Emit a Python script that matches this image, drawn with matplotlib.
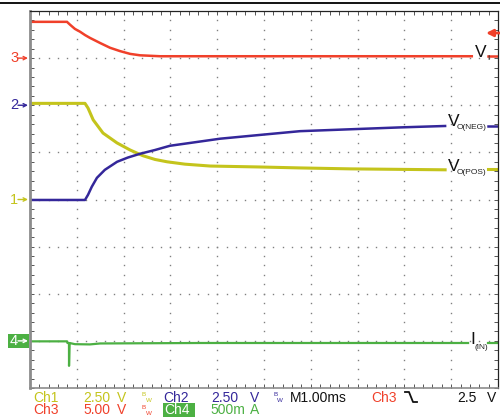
import matplotlib
matplotlib.use("Agg")
import matplotlib.pyplot as plt
import numpy as np
from matplotlib.lines import Line2D
from matplotlib.patches import Rectangle

plt.rcParams["font.family"] = ["Liberation Sans", "DejaVu Sans"]

W, H = 500, 417

# time axis in divisions (1 div = 1.00 ms), traces in screen divisions
ch3_t = [0.0, 0.79, 0.855, 0.96, 1.07, 1.175, 1.28, 1.50, 1.71, 1.92, 2.14, 2.35, 2.78, 3.63, 5.77, 8.33, 9.44]
ch3_v = [7.77, 7.77, 7.71, 7.62, 7.56, 7.49, 7.43, 7.32, 7.22, 7.15, 7.09, 7.06, 7.04, 7.04, 7.04, 7.04, 7.04]
ch3_tail_t = [9.79, 10.0]
ch3_tail_v = [7.04, 7.04]

ch1_t = [0.0, 1.175, 1.24, 1.35, 1.56, 1.86, 2.14, 2.41, 2.67, 2.93, 3.31, 3.85, 4.91, 5.77, 6.84, 8.87]
ch1_v = [6.04, 6.04, 5.94, 5.69, 5.41, 5.20, 5.05, 4.93, 4.85, 4.80, 4.75, 4.71, 4.69, 4.67, 4.65, 4.63]
ch1_tail_t = [9.79, 10.0]
ch1_tail_v = [4.64, 4.64]

ch2_t = [0.0, 1.175, 1.24, 1.32, 1.43, 1.60, 1.86, 2.09, 2.35, 2.67, 2.99, 3.42, 4.06, 4.91, 5.77, 6.84, 7.91, 8.87]
ch2_v = [3.99, 3.99, 4.10, 4.27, 4.46, 4.63, 4.80, 4.89, 4.97, 5.05, 5.14, 5.20, 5.29, 5.37, 5.45, 5.49, 5.53, 5.56]
ch2_tail_t = [9.79, 10.0]
ch2_tail_v = [5.57, 5.57]

ch4_t = [0.0, 0.79, 0.80, 0.833, 0.834, 0.845, 0.96, 1.28, 1.50, 3.63, 9.36]
ch4_v = [0.99, 0.99, 0.955, 0.955, 0.47, 0.955, 0.93, 0.925, 0.945, 0.955, 0.955]
ch4_tail_t = [9.79, 10.0]
ch4_tail_v = [0.955, 0.955]

# channel ground markers (div) and labels
marker_levels = [7, 6, 4, 1]
marker_names = ["3", "2", "1", "4"]

RED = "#f0402a"
YEL = "#c4c41c"
BLU = "#34279a"
GRN = "#4cb043"

fig = plt.figure(figsize=(W / 100, H / 100), dpi=100)
ax = fig.add_axes([30 / W, (H - 388) / H, 468 / W, 377 / H])
ax.set_xlim(0, 10)
ax.set_ylim(0, 8)

# graticule: dotted lines with a dot every minor division
minor_x = np.arange(0, 10.001, 0.2)
minor_y = np.arange(0, 8.001, 0.2)
for gx in range(1, 10):
    ax.plot(np.full_like(minor_y, gx), minor_y, ls="", marker="s", ms=1.0, color="#808080", mew=0)
for gy in range(1, 8):
    ax.plot(minor_x, np.full_like(minor_x, gy), ls="", marker="s", ms=1.0, color="#808080", mew=0)

ax.set_xticks(np.arange(0, 10.001, 1))
ax.set_xticks(minor_x, minor=True)
ax.set_yticks(np.arange(0, 8.001, 1))
ax.set_yticks(minor_y, minor=True)
ax.tick_params(which="both", direction="in", length=3, width=0.7, color="#555555",
               top=True, right=True, labelbottom=False, labelleft=False)
for side in ["top", "right"]:
    ax.spines[side].set_color("#222222")
    ax.spines[side].set_linewidth(0.9)
ax.spines["left"].set_color("#8c8c8c")
ax.spines["left"].set_linewidth(2.0)
ax.spines["bottom"].set_color("#8c8c8c")
ax.spines["bottom"].set_linewidth(1.2)

# traces
lw = 1.8
ax.plot(ch3_t, ch3_v, color=RED, lw=lw, solid_joinstyle="miter")
ax.plot(ch3_tail_t, ch3_tail_v, color=RED, lw=lw)
ax.plot(ch1_t, ch1_v, color=YEL, lw=lw + 0.4)
ax.plot(ch1_tail_t, ch1_tail_v, color=YEL, lw=lw + 0.4)
ax.plot(ch2_t, ch2_v, color=BLU, lw=lw)
ax.plot(ch2_tail_t, ch2_tail_v, color=BLU, lw=lw)
ax.plot(ch4_t, ch4_v, color=GRN, lw=lw - 0.2)
ax.plot(ch4_tail_t, ch4_tail_v, color=GRN, lw=lw - 0.2)


# trace labels
def trace_label(x, y, main, sub, sx, sy):
    ax.text(x, y, main, fontsize=12.5, va="center", ha="left", color="#111111")
    ax.text(sx, sy, sub, fontsize=6, va="center", ha="left", color="#222222")


trace_label(9.51, 7.11, "V", "I", 9.76, 7.0)
trace_label(8.93, 5.65, "V", "O(NEG)", 9.12, 5.52)
trace_label(8.93, 4.69, "V", "O(POS)", 9.12, 4.57)
trace_label(9.40, 1.02, "I", "(IN)", 9.49, 0.87)


def px(x, y):
    return x / W, 1 - y / H


# top black rule
fig.add_artist(Line2D([0, 1], [1 - 2.5 / H] * 2, color="black", lw=1.3))

# channel markers on the left edge
marker_colors = [RED, BLU, YEL, GRN]
for lvl, name, col in zip(marker_levels, marker_names, marker_colors):
    ypix = 388 - lvl * 377 / 8
    if name == "4":
        fig.add_artist(Rectangle(px(8, ypix + 7), 21 / W, 14 / H, transform=fig.transFigure,
                                 color=col, lw=0, zorder=-1))
        tc = "white"
    else:
        tc = col
    fig.text(*px(10, ypix), name, fontsize=10.5, color=tc, ha="left", va="center")
    ax.annotate("", xy=(28, H - ypix), xycoords="figure pixels",
                xytext=(18, H - ypix), textcoords="figure pixels",
                arrowprops=dict(arrowstyle="->", color=tc, lw=1.0, mutation_scale=6,
                                shrinkA=0, shrinkB=0))

# trigger level arrow on the right
ax.annotate("", xy=(486, H - 33), xycoords="figure pixels",
            xytext=(500, H - 33), textcoords="figure pixels",
            arrowprops=dict(arrowstyle="-|>", color=RED, lw=2.0, mutation_scale=10,
                            shrinkA=0, shrinkB=0))


# status line
def status(x, y, s, col, **kw):
    fig.text(*px(x, y), s, fontsize=10, color=col, ha="left", va="center", **kw)


def bw(x, y, col):
    fig.text(*px(x, y - 2.5), "B", fontsize=4.5, color=col, ha="left", va="center")
    fig.text(*px(x + 4, y + 3.5), "W", fontsize=4.5, color=col, ha="left", va="center")


r1, r2 = 397.5, 410
status(33, r1, "Ch1", YEL)
status(83, r1, "2.50", YEL)
status(117, r1, "V", YEL)
bw(142, r1, YEL)
status(163, r1, "Ch2", BLU)
status(211, r1, "2.50", BLU)
status(250, r1, "V", BLU)
bw(273, r1, BLU)
status(290, r1, "M1.00ms", "#111111")
status(371, r1, "Ch3", RED)
fig.add_artist(Line2D([405 / W, 409 / W, 413 / W, 417 / W],
                      [1 - 392 / H, 1 - 392 / H, 1 - 402 / H, 1 - 402 / H],
                      color="#111111", lw=1.3))
status(457, r1, "2.5", "#111111")
status(487, r1, "V", "#111111")

status(33, r2, "Ch3", RED)
status(83, r2, "5.00", RED)
status(117, r2, "V", RED)
bw(142, r2, RED)
fig.add_artist(Rectangle(px(163, r2 + 7), 32 / W, 14 / H, transform=fig.transFigure,
                         color=GRN, lw=0))
status(164, r2, "Ch4", "white")
status(210, r2, "500m", GRN)
status(250, r2, "A", GRN)

fig.savefig("out.png", dpi=100)
